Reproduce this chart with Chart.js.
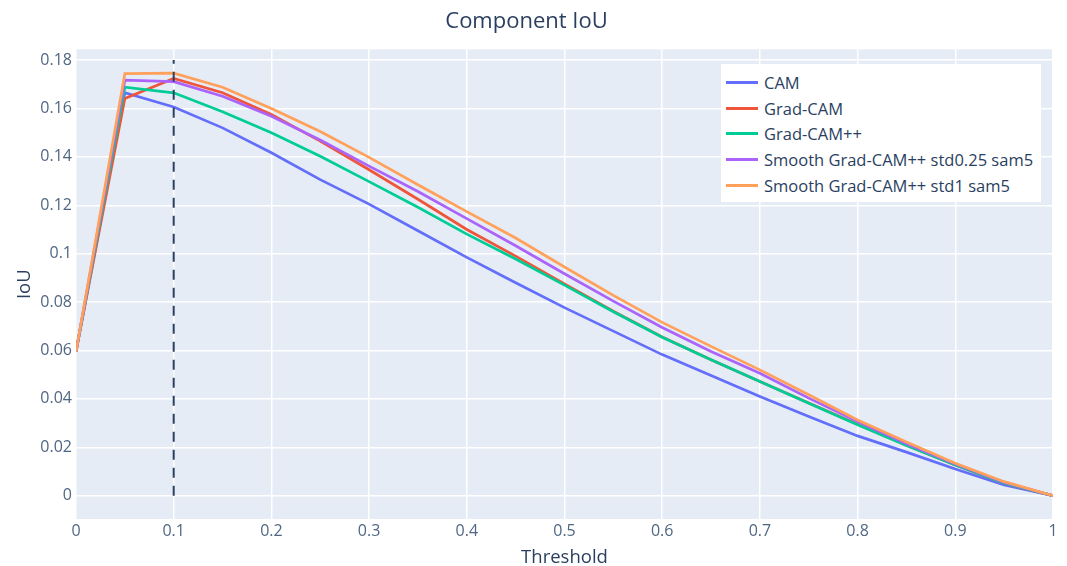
<!DOCTYPE html>
<html>
<head>
<meta charset="utf-8">
<script src="https://cdn.jsdelivr.net/npm/chart.js@4.4.1/dist/chart.umd.min.js"></script>
<style>
	html, body { margin: 0; padding: 0; background: #fff; }
	#wrap { position: relative; width: 1067px; height: 566px; }
	#legend {
		position: absolute; left: 721px; top: 64px; width: 320px; height: 138px;
		background: #fff; box-sizing: border-box; padding-top: 6px;
		font-family: "Open Sans", sans-serif; font-size: 16.5px; color: #2a3f5f;
	}
	.row { height: 25.6px; display: flex; align-items: center; white-space: nowrap; }
	.swatch { width: 32px; height: 3px; margin-left: 5px; margin-right: 6px; }
</style>
</head>
<body>
<div id="wrap">
	<canvas id="myChart" width="1067" height="566"></canvas>
	<div id="legend"></div>
</div>
<script>
const thresholds = [0, 0.05, 0.1, 0.15, 0.2, 0.25, 0.3, 0.35, 0.4, 0.45, 0.5, 0.55, 0.6, 0.65, 0.7, 0.75, 0.8, 0.85, 0.9, 0.95, 1]

const camIoU = [0.0595, 0.1665, 0.1606, 0.1520, 0.1417, 0.1306, 0.1205, 0.1095, 0.0985, 0.0880, 0.0777, 0.0680, 0.0583, 0.0497, 0.0410, 0.0327, 0.0247, 0.0180, 0.0110, 0.0044, 0]
const gradCamIoU = [0.0595, 0.1641, 0.1724, 0.1665, 0.1575, 0.1465, 0.1347, 0.1225, 0.1100, 0.0990, 0.0875, 0.0762, 0.0656, 0.0562, 0.0472, 0.0383, 0.0295, 0.0208, 0.0127, 0.0051, 0]
const gradCamPPIoU = [0.0595, 0.1688, 0.1665, 0.1587, 0.1500, 0.1403, 0.1298, 0.1192, 0.1081, 0.0978, 0.0870, 0.0760, 0.0655, 0.0562, 0.0472, 0.0382, 0.0293, 0.0207, 0.0127, 0.0051, 0]
const smoothStd025IoU = [0.0595, 0.1717, 0.1711, 0.1651, 0.1568, 0.1470, 0.1362, 0.1257, 0.1145, 0.1033, 0.0917, 0.0804, 0.0695, 0.0596, 0.0506, 0.0403, 0.0306, 0.0215, 0.0131, 0.0055, 0]
const smoothStd1IoU = [0.0595, 0.1744, 0.1746, 0.1688, 0.1600, 0.1505, 0.1398, 0.1285, 0.1174, 0.1065, 0.0945, 0.0828, 0.0716, 0.0617, 0.0520, 0.0417, 0.0313, 0.0222, 0.0134, 0.0058, 0]

const seriesNames = ['CAM', 'Grad-CAM', 'Grad-CAM++', 'Smooth Grad-CAM++ std0.25 sam5', 'Smooth Grad-CAM++ std1 sam5']
const seriesValues = [camIoU, gradCamIoU, gradCamPPIoU, smoothStd025IoU, smoothStd1IoU]
const seriesColors = ['#636efa', '#ef553b', '#00cc96', '#ab63fa', '#ffa15a']

const xTicks = [0, 0.1, 0.2, 0.3, 0.4, 0.5, 0.6, 0.7, 0.8, 0.9, 1]
const yTicks = [0, 0.02, 0.04, 0.06, 0.08, 0.1, 0.12, 0.14, 0.16, 0.18]

// dashed marker line
const markerX = 0.1
const markerY = [0, 0.18]

const fontFamily = '"Open Sans", sans-serif'
const textColor = '#2a3f5f'
const tickColor = '#506784'

// plot background
const plotBg = {
	id: 'plotBg',
	beforeDraw(chart) {
		var a = chart.chartArea
		var c = chart.ctx
		c.save()
		c.fillStyle = '#e5ecf6'
		c.fillRect(a.left, a.top, a.right - a.left, a.bottom - a.top)
		c.restore()
	}
}

var datasets = seriesNames.map(function (name, i) {
	return {
		label: name,
		data: thresholds.map(function (t, j) { return { x: t, y: seriesValues[i][j] } }),
		borderColor: seriesColors[i],
		backgroundColor: seriesColors[i],
		borderWidth: 2.7,
		pointRadius: 0,
		tension: 0,
		fill: false,
		order: seriesNames.length - i
	}
})

datasets.push({
	label: 'marker',
	data: markerY.map(function (v) { return { x: markerX, y: v } }),
	borderColor: textColor,
	borderWidth: 2,
	borderDash: [10, 8],
	pointRadius: 0,
	fill: false,
	order: -1
})

var ctx = document.getElementById('myChart')
var lineChart = new Chart(ctx, {
	type: 'line',
	data: { datasets: datasets },
	plugins: [plotBg],
	options: {
		responsive: false,
		animation: false,
		layout: { padding: { left: 0, right: 14, top: 0, bottom: 0 } },
		plugins: {
			legend: { display: false },
			tooltip: { enabled: false },
			title: {
				display: true,
				text: 'Component IoU',
				color: textColor,
				font: { family: fontFamily, size: 22, weight: 'normal' },
				padding: { top: 9, bottom: 14 }
			}
		},
		scales: {
			x: {
				type: 'linear',
				min: 0,
				max: 1,
				afterBuildTicks: function (s) { s.ticks = xTicks.map(function (v) { return { value: v } }) },
				afterFit: function (s) { s.height = 47 },
				ticks: {
					color: tickColor,
					font: { family: fontFamily, size: 16 },
					padding: 3,
					maxRotation: 0,
					autoSkip: false,
					callback: function (v) { return String(v) }
				},
				grid: { color: '#ffffff', lineWidth: 1.5, drawTicks: false },
				border: { display: false },
				title: {
					display: true,
					text: 'Threshold',
					color: textColor,
					font: { family: fontFamily, size: 18.5 },
					padding: { top: 0, bottom: -3 }
				}
			},
			y: {
				type: 'linear',
				min: -0.00964,
				max: 0.18443,
				afterBuildTicks: function (s) { s.ticks = yTicks.map(function (v) { return { value: v } }) },
				afterFit: function (s) { s.width = 76 },
				ticks: {
					color: tickColor,
					font: { family: fontFamily, size: 16 },
					padding: 4,
					autoSkip: false,
					callback: function (v) { return String(v) }
				},
				grid: { color: '#ffffff', lineWidth: 1.5, drawTicks: false },
				border: { display: false },
				title: {
					display: true,
					text: 'IoU',
					color: textColor,
					font: { family: fontFamily, size: 18.5 },
					padding: { top: 14, bottom: 0 }
				}
			}
		}
	}
})

// html legend, built from the chart's datasets
var legendBox = document.getElementById('legend')
lineChart.data.datasets.forEach(function (ds) {
	if (ds.label === 'marker') return
	var row = document.createElement('div')
	row.className = 'row'
	var sw = document.createElement('span')
	sw.className = 'swatch'
	sw.style.background = ds.borderColor
	var txt = document.createElement('span')
	txt.textContent = ds.label
	row.appendChild(sw)
	row.appendChild(txt)
	legendBox.appendChild(row)
})
</script>
</body>
</html>
